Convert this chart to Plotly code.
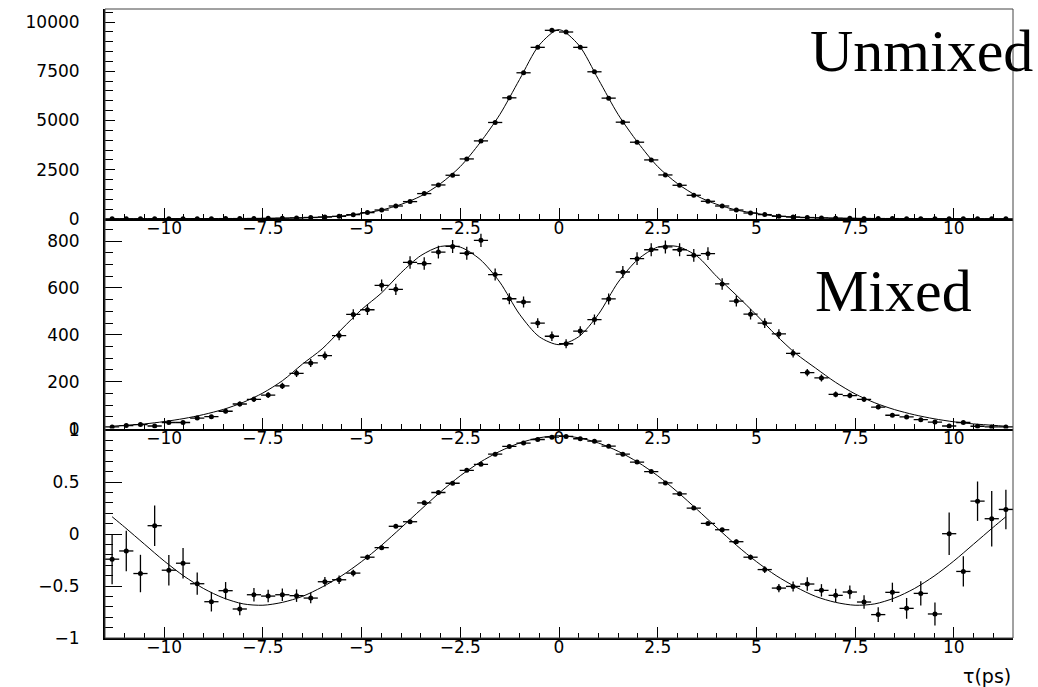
import plotly.graph_objects as go

# ---------------- data ----------------
tau_bins = [-11.320, -10.961, -10.602, -10.242, -9.883, -9.523, -9.164, -8.805, -8.445, -8.086,
            -7.727, -7.367, -7.008, -6.648, -6.289, -5.930, -5.570, -5.211, -4.852, -4.492,
            -4.133, -3.773, -3.414, -3.055, -2.695, -2.336, -1.977, -1.617, -1.258, -0.898,
            -0.539, -0.180, 0.180, 0.539, 0.898, 1.258, 1.617, 1.977, 2.336, 2.695,
            3.055, 3.414, 3.773, 4.133, 4.492, 4.852, 5.211, 5.570, 5.930, 6.289,
            6.648, 7.008, 7.367, 7.727, 8.086, 8.445, 8.805, 9.164, 9.523, 9.883,
            10.242, 10.602, 10.961, 11.320]
bin_half_width = 0.1797

unmixed = [10, 12, 13, 15, 16, 17, 18, 20, 21, 23, 27, 33, 44, 58, 78, 102,
           137, 222, 325, 458, 661, 884, 1291, 1729, 2222, 3050, 3966, 4900, 6152, 7423, 8714, 9578,
           9492, 8714, 7473, 6136, 4916, 3899, 3000, 2237, 1713, 1205, 900, 661, 458, 305, 224, 137,
           102, 76, 58, 44, 33, 27, 23, 21, 20, 18, 17, 16, 15, 13, 12, 10]

mixed = [7, 13, 17, 11, 26, 26, 45, 51, 74, 105, 125, 143, 182, 236, 280, 311,
         397, 487, 507, 611, 594, 709, 704, 753, 777, 748, 803, 657, 554, 540, 450, 394,
         362, 416, 465, 553, 668, 725, 763, 775, 763, 739, 746, 617, 544, 488, 450, 404,
         321, 239, 216, 146, 141, 125, 92, 57, 50, 38, 28, 11, 26, 10, 7, 7]
mixed_err = [2.6, 3.6, 4.1, 3.3, 5.1, 5.1, 6.7, 7.1, 8.6, 10.2, 11.2, 12.0, 13.5, 15.4, 16.7, 17.6,
             19.9, 22.1, 22.5, 24.7, 24.4, 26.6, 26.5, 27.4, 27.9, 27.3, 28.3, 25.6, 23.5, 23.2, 21.2, 19.8,
             19.0, 20.4, 21.6, 23.5, 25.8, 26.9, 27.6, 27.8, 27.6, 27.2, 27.3, 24.8, 23.3, 22.1, 21.2, 20.1,
             17.9, 15.5, 14.7, 12.1, 11.9, 11.2, 9.6, 7.5, 7.1, 6.2, 5.3, 3.3, 5.1, 3.2, 2.6, 2.6]

asym = [-0.242, -0.163, -0.38, 0.08, -0.348, -0.281, -0.478, -0.651, -0.545, -0.721,
        -0.584, -0.597, -0.584, -0.593, -0.616, -0.459, -0.44, -0.376, -0.223, -0.131,
        0.074, 0.118, 0.30, 0.399, 0.488, 0.612, 0.67, 0.768, 0.842, 0.874,
        0.909, 0.931, 0.938, 0.916, 0.893, 0.845, 0.768, 0.692, 0.600, 0.491,
        0.386, 0.249, 0.102, 0.041, -0.074, -0.223, -0.342, -0.52, -0.504, -0.481,
        -0.542, -0.59, -0.558, -0.654, -0.775, -0.561, -0.715, -0.571, -0.769, 0.003,
        -0.36, 0.316, 0.147, 0.236]
asym_err = [0.24, 0.195, 0.18, 0.195, 0.147, 0.147, 0.107, 0.094, 0.083, 0.06,
            0.064, 0.06, 0.06, 0.06, 0.05, 0.045, 0.04, 0.032, 0.025, 0.02,
            0.016, 0.013, 0.011, 0.01, 0.009, 0.008, 0.007, 0.006, 0.006, 0.005,
            0.005, 0.005, 0.005, 0.005, 0.005, 0.006, 0.006, 0.007, 0.008, 0.009,
            0.01, 0.011, 0.013, 0.016, 0.02, 0.025, 0.032, 0.04, 0.048, 0.064,
            0.06, 0.064, 0.064, 0.064, 0.07, 0.093, 0.1, 0.116, 0.11, 0.205,
            0.145, 0.19, 0.267, 0.19]

fit_tau = [-11.32, -11.0, -10.5, -10.0, -9.5, -9.0, -8.5, -8.0, -7.5, -7.0, -6.5, -6.0,
           -5.5, -5.0, -4.5, -4.0, -3.5, -3.0, -2.5, -2.0, -1.5, -1.0, -0.5, 0.0,
           0.5, 1.0, 1.5, 2.0, 2.5, 3.0, 3.5, 4.0, 4.5, 5.0, 5.5, 6.0,
           6.5, 7.0, 7.5, 8.0, 8.5, 9.0, 9.5, 10.0, 10.5, 11.0, 11.32]
fit_unmixed = [11, 12, 13, 15, 17, 19, 21, 24, 30, 40, 60, 98, 152, 285, 455, 742, 1165, 1800,
               2663, 3875, 5300, 7080, 8830, 9610, 8830, 7080, 5300, 3875, 2663, 1800, 1165, 742,
               455, 285, 152, 98, 60, 40, 30, 24, 21, 19, 17, 15, 13, 12, 11]
fit_mixed = [10, 14, 20, 30, 43, 60, 82, 112, 152, 205, 275, 340, 425, 508, 578, 665, 738, 777,
             774, 722, 625, 488, 392, 358, 392, 488, 625, 722, 774, 777, 735, 648, 568, 485,
             398, 320, 258, 198, 148, 110, 81, 59, 42, 29, 20, 14, 10]
fit_asym = [0.166, 0.065, -0.098, -0.26, -0.405, -0.525, -0.615, -0.672, -0.685, -0.657,
            -0.60, -0.51, -0.40, -0.265, -0.11, 0.06, 0.235, 0.405, 0.56, 0.69, 0.795, 0.875,
            0.925, 0.945, 0.925, 0.875, 0.795, 0.69, 0.56, 0.405, 0.235, 0.06, -0.11, -0.265,
            -0.40, -0.51, -0.60, -0.657, -0.685, -0.672, -0.615, -0.525, -0.405, -0.26, -0.098,
            0.065, 0.166]

# ---------------- figure ----------------
fig = go.Figure()

marker = dict(color="black", size=5, symbol="circle")
ex = dict(type="constant", value=bin_half_width, color="black", thickness=1.3, width=0)
fit_line = dict(color="black", width=1, shape="spline", smoothing=0.8)

fig.add_trace(go.Scatter(x=tau_bins, y=unmixed, mode="markers", marker=marker,
                         error_x=ex, xaxis="x", yaxis="y", showlegend=False))
fig.add_trace(go.Scatter(x=fit_tau, y=fit_unmixed, mode="lines", line=fit_line,
                         xaxis="x", yaxis="y", showlegend=False))

fig.add_trace(go.Scatter(x=tau_bins, y=mixed, mode="markers", marker=marker, error_x=ex,
                         error_y=dict(type="data", array=mixed_err, color="black", thickness=1.3, width=0),
                         xaxis="x2", yaxis="y2", showlegend=False))
fig.add_trace(go.Scatter(x=fit_tau, y=fit_mixed, mode="lines", line=fit_line,
                         xaxis="x2", yaxis="y2", showlegend=False))

fig.add_trace(go.Scatter(x=tau_bins, y=asym, mode="markers", marker=marker, error_x=ex,
                         error_y=dict(type="data", array=asym_err, color="black", thickness=1.3, width=0),
                         xaxis="x3", yaxis="y3", showlegend=False))
fig.add_trace(go.Scatter(x=fit_tau, y=fit_asym, mode="lines", line=fit_line,
                         xaxis="x3", yaxis="y3", showlegend=False))

tick_font = dict(family="DejaVu Sans", size=17, color="black")

def xax(anchor):
    return dict(range=[-11.5, 11.5], anchor=anchor, showgrid=False, zeroline=False,
                automargin=False,
                showline=True, linecolor="black", linewidth=2,
                ticks="inside", ticklen=11, tickwidth=1, tickcolor="black",
                dtick=2.5, tick0=0, tickfont=tick_font, ticklabelstandoff=-7,
                minor=dict(ticks="inside", ticklen=5, tickwidth=1, tickcolor="black", dtick=0.5, tick0=0))

def yax(anchor, domain, rng, dtick, mdtick, tlen, fmt):
    return dict(domain=domain, range=rng, anchor=anchor, showgrid=False, zeroline=False,
                automargin=False,
                showline=True, linecolor="black", linewidth=2,
                ticks="inside", ticklen=tlen, tickwidth=1, tickcolor="black",
                dtick=dtick, tick0=0, tickfont=tick_font, tickformat=fmt,
                ticklabelstandoff=20,
                minor=dict(ticks="inside", ticklen=8, tickwidth=1, tickcolor="black", dtick=mdtick, tick0=0))

b1, b2 = 0.3329, 0.6661
fig.update_layout(
    width=1038, height=687,
    margin=dict(l=105, r=25, t=9, b=49, autoexpand=False),
    paper_bgcolor="white", plot_bgcolor="white",
    xaxis=xax("y"), yaxis=yax("x", [b2, 1.0], [0, 10660], 2500, 500, 10, "d"),
    xaxis2=xax("y2"), yaxis2=yax("x2", [b1, b2], [0, 894], 200, 50, 17, "d"),
    xaxis3=xax("y3"), yaxis3=yax("x3", [0, b1], [-1, 1.0135], 0.5, 0.1, 17, ""),
    shapes=[dict(type="rect", xref="paper", yref="paper", x0=0, x1=1, y0=0, y1=1,
                 line=dict(color="#444444", width=1))],
    annotations=[
        dict(text="Unmixed", xref="paper", yref="paper", x=0.7742, y=0.9332,
             xanchor="left", yanchor="middle", showarrow=False,
             font=dict(family="Liberation Serif", size=60, color="black")),
        dict(text="Mixed", xref="paper", yref="paper", x=0.7797, y=0.5517,
             xanchor="left", yanchor="middle", showarrow=False,
             font=dict(family="Liberation Serif", size=60, color="black")),
        dict(text="τ(ps)", xref="paper", yref="paper", x=1.0, y=-0.061,
             xanchor="right", yanchor="middle", showarrow=False,
             font=dict(family="DejaVu Sans", size=19, color="black")),
    ],
)

fig.write_html("out.html")
